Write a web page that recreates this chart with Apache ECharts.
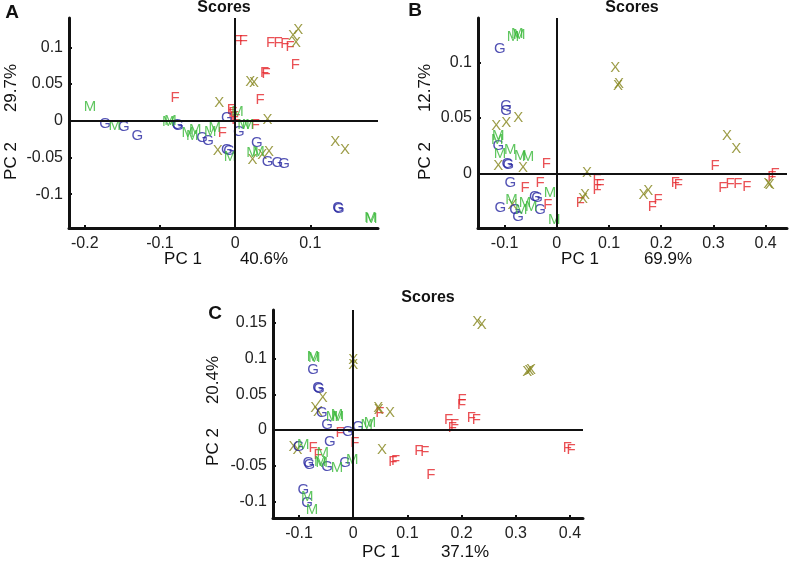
<!DOCTYPE html>
<html><head><meta charset="utf-8">
<script src="https://cdn.jsdelivr.net/npm/echarts@6/dist/echarts.min.js"></script>
<style>html,body{margin:0;padding:0;background:#fff}#c{width:796px;height:561px}</style>
</head><body><div id="c"></div>
<script>
// ---------- Panel A ----------
const A_F = [[0.004,0.109],[0.011,0.109],[0.047,0.106],[0.057,0.106],[0.066,0.105],[0.073,0.101],[0.080,0.076],[0.039,0.065],[0.041,0.064],[0.033,0.029],[-0.080,0.031],[-0.005,0.015],[-0.003,0.011],[-0.001,0.005],[0.001,0.001],[0.027,-0.005],[-0.017,-0.016]];
const A_X = [[0.084,0.124],[0.077,0.116],[0.081,0.106],[0.020,0.053],[0.025,0.052],[-0.021,0.024],[0.043,0.001],[0.133,-0.029],[0.146,-0.039],[-0.023,-0.041],[0.023,-0.053],[0.036,-0.046],[0.045,-0.042]];
const A_G = [[-0.173,-0.004],[-0.148,-0.008],[-0.130,-0.020],[-0.077,-0.005],[-0.076,-0.007],[-0.044,-0.023],[-0.036,-0.027],[-0.011,0.004],[0.005,-0.015],[0.029,-0.030],[-0.011,-0.039],[-0.008,-0.041],[0.043,-0.056],[0.056,-0.057],[0.065,-0.058],[0.137,-0.118],[0.138,-0.120]];
const A_M = [[-0.193,0.019],[-0.160,-0.007],[-0.089,-0.001],[-0.086,0.000],[-0.063,-0.016],[-0.057,-0.020],[-0.053,-0.012],[-0.033,-0.015],[-0.027,-0.010],[0.003,0.012],[0.011,-0.005],[0.017,-0.005],[-0.007,-0.049],[0.023,-0.044],[0.031,-0.042],[0.180,-0.132],[0.181,-0.133]];
// ---------- Panel B ----------
const B_M = [[-0.076,0.126],[-0.072,0.125],[-0.084,0.123],[-0.112,0.034],[-0.114,0.030],[-0.109,0.018],[-0.089,0.021],[-0.070,0.016],[-0.055,0.015],[-0.087,-0.024],[-0.061,-0.026],[-0.068,-0.033],[-0.049,-0.030],[-0.013,-0.017],[-0.005,-0.042]];
const B_G = [[-0.109,0.112],[-0.097,0.061],[-0.097,0.056],[-0.112,0.025],[-0.095,0.009],[-0.093,0.008],[-0.089,-0.008],[-0.042,-0.021],[-0.038,-0.022],[-0.108,-0.031],[-0.080,-0.033],[-0.074,-0.039],[-0.032,-0.033]];
const B_X = [[-0.074,0.050],[-0.097,0.046],[-0.116,0.043],[-0.112,0.007],[-0.065,0.005],[0.058,0.001],[0.054,-0.019],[0.050,-0.023],[0.112,0.095],[0.119,0.081],[0.117,0.079],[0.166,-0.019],[0.175,-0.016],[0.326,0.034],[0.344,0.022],[0.405,-0.009],[0.408,-0.010],[-0.085,-0.028]];
const B_F = [[-0.020,0.009],[-0.032,-0.008],[-0.061,-0.013],[-0.017,-0.028],[0.077,-0.006],[0.083,-0.010],[0.077,-0.015],[0.045,-0.026],[0.183,-0.030],[0.194,-0.024],[0.227,-0.008],[0.233,-0.010],[0.303,0.007],[0.318,-0.013],[0.332,-0.009],[0.347,-0.009],[0.364,-0.012],[0.418,0.000],[0.412,-0.003]];
// ---------- Panel C ----------
const C_X = [[0.229,0.151],[0.237,0.147],[0.321,0.081],[0.328,0.084],[0.325,0.083],[0.053,-0.028],[0.068,0.024],[0.046,0.031],[0.047,0.028],[0.000,0.098],[0.000,0.091],[-0.056,0.045],[-0.070,0.031],[-0.065,0.025],[-0.110,-0.024],[-0.103,-0.028]];
const C_F = [[0.201,0.042],[0.200,0.035],[0.176,0.014],[0.187,0.007],[0.183,0.003],[0.218,0.017],[0.227,0.015],[0.395,-0.025],[0.402,-0.027],[0.121,-0.029],[0.132,-0.031],[0.143,-0.063],[0.073,-0.045],[0.078,-0.043],[0.049,0.024],[-0.024,-0.004],[0.003,-0.018],[-0.074,-0.025],[-0.065,-0.035]];
const C_M = [[0.031,0.010],[0.025,0.007],[-0.074,0.102],[-0.072,0.101],[-0.039,0.018],[-0.030,0.021],[-0.028,0.018],[-0.092,-0.021],[-0.056,-0.032],[-0.061,-0.045],[-0.058,-0.046],[-0.030,-0.053],[-0.002,-0.042],[-0.085,-0.094],[-0.076,-0.112]];
const C_G = [[0.009,0.004],[-0.010,-0.003],[-0.043,-0.017],[-0.048,0.007],[-0.074,0.084],[-0.065,0.059],[-0.063,0.057],[-0.058,0.024],[-0.101,-0.024],[-0.083,-0.046],[-0.081,-0.048],[-0.048,-0.052],[-0.015,-0.046],[-0.092,-0.084],[-0.085,-0.102]];
// ---------- ticks ----------
const A_xTicks = [-0.2,-0.1,0,0.1];
const A_yTicks = [-0.1,-0.05,0,0.05,0.1];
const B_xTicks = [-0.1,0,0.1,0.2,0.3,0.4];
const B_yTicks = [0,0.05,0.1];
const C_xTicks = [-0.1,0,0.1,0.2,0.3,0.4];
const C_yTicks = [-0.1,-0.05,0,0.05,0.1,0.15];

const COLORS = {F:'#e5262b', M:'#38b838', G:'#2626a0', X:'#85851c'};
const FONT = 'Liberation Sans, Arial, sans-serif';

const grids = [
  {left:69, top:18, width:309, height:210},
  {left:478, top:18, width:309, height:210},
  {left:273, top:310, width:310, height:208}
];
const ranges = [
  {x:[-0.221,0.190], y:[-0.146,0.140], xt:A_xTicks, yt:A_yTicks},
  {x:[-0.151,0.441], y:[-0.049,0.140], xt:B_xTicks, yt:B_yTicks},
  {x:[-0.148,0.424], y:[-0.123,0.168], xt:C_xTicks, yt:C_yTicks}
];
const axisCommon = {
  axisLine:{show:true, onZero:false, lineStyle:{color:'#111', width:3}},
  splitLine:{show:false}
};
const xAxis = ranges.map((r,i)=>Object.assign({}, axisCommon, {
  type:'value', gridIndex:i, min:r.x[0], max:r.x[1],
  axisTick:{show:true, inside:true, length:3, lineStyle:{color:'#111', width:2}, customValues:r.xt},
  axisLabel:{customValues:r.xt, margin:8, fontSize:16, color:'#222', fontFamily:FONT}
}));
const yAxis = ranges.map((r,i)=>Object.assign({}, axisCommon, {
  type:'value', gridIndex:i, min:r.y[0], max:r.y[1],
  axisTick:{show:true, inside:true, length:3, lineStyle:{color:'#111', width:2}, customValues:r.yt},
  axisLabel:{customValues:r.yt, margin:6, fontSize:16, color:'#222', fontFamily:FONT}
}));

function ser(data, letter, gi, withLines){
  const s = {
    type:'scatter', xAxisIndex:gi, yAxisIndex:gi, data:data,
    symbolSize:1, itemStyle:{color:'rgba(0,0,0,0)'},
    emphasis:{disabled:true}, silent:true,
    label:{show:true, position:'inside', formatter:letter, fontSize:15,
           color:COLORS[letter], fontFamily:FONT}
  };
  if(withLines){
    s.markLine = {symbol:'none', silent:true, animation:false, label:{show:false},
      lineStyle:{color:'#111', width:2, type:'solid'},
      data:[{xAxis:0},{yAxis:0}]};
  }
  return s;
}
const series = [
  ser(A_F,'F',0,true), ser(A_X,'X',0), ser(A_G,'G',0), ser(A_M,'M',0),
  ser(B_F,'F',1,true), ser(B_X,'X',1), ser(B_G,'G',1), ser(B_M,'M',1),
  ser(C_F,'F',2,true), ser(C_X,'X',2), ser(C_G,'G',2), ser(C_M,'M',2)
];

function txt(t, x, y, size, bold, rot){
  return {type:'text', x:x, y:y, rotation:rot||0, silent:true,
    style:{text:t, fill:'#111', font:(bold?'bold ':'')+size+'px '+FONT, textAlign:'center', textVerticalAlign:'middle'}};
}
const graphic = [
  txt('A',12,13,19,true), txt('Scores',224,8,16,true),
  txt('B',415,11,19,true), txt('Scores',632,8,16,true),
  txt('C',215,314,19,true), txt('Scores',428,298,16,true),
  txt('PC 1',183,259,17), txt('40.6%',264,259,17),
  txt('PC 2',11,161,17,false,Math.PI/2), txt('29.7%',11,88,17,false,Math.PI/2),
  txt('PC 1',580,259,17), txt('69.9%',668,259,17),
  txt('PC 2',425,161,17,false,Math.PI/2), txt('12.7%',425,88,17,false,Math.PI/2),
  txt('PC 1',381,552,17), txt('37.1%',465,552,17),
  txt('PC 2',213,447,17,false,Math.PI/2), txt('20.4%',213,380,17,false,Math.PI/2)
];

const chart = echarts.init(document.getElementById('c'), null, {renderer:'canvas'});
chart.setOption({animation:false, backgroundColor:'#fff', grid:grids, xAxis:xAxis, yAxis:yAxis, series:series, graphic:graphic});
</script></body></html>
